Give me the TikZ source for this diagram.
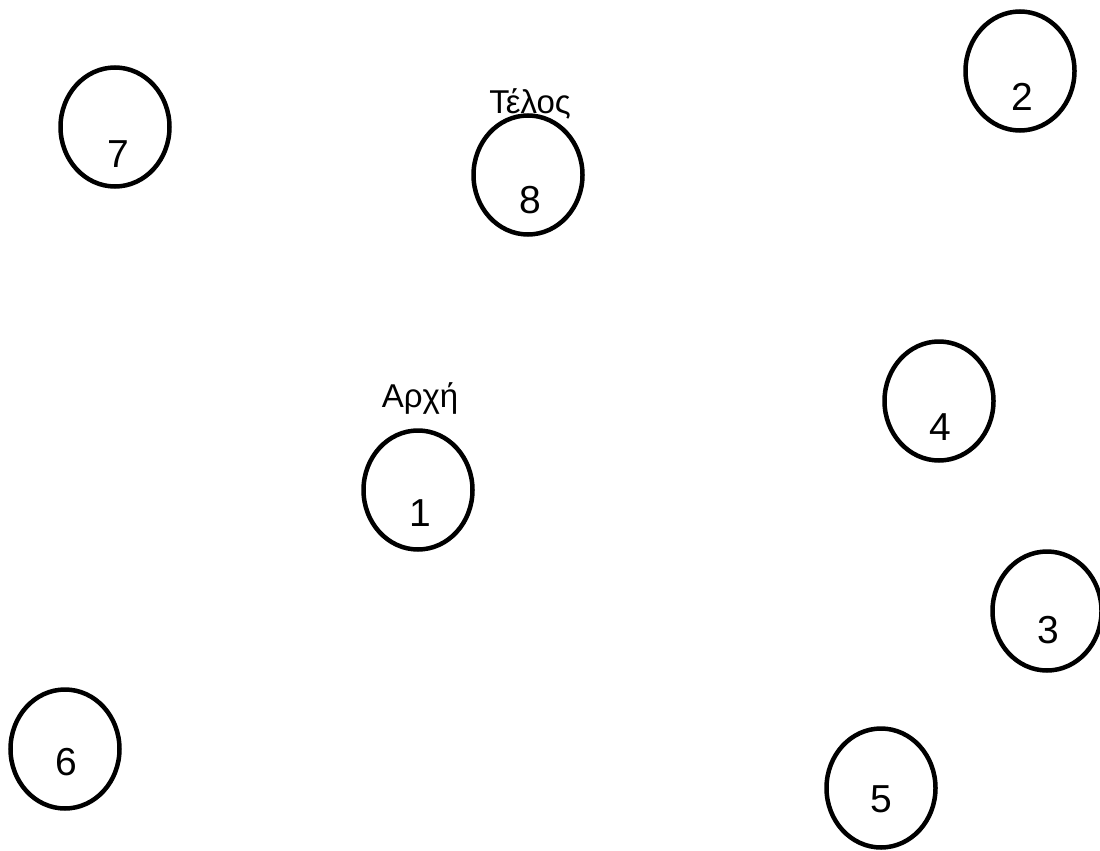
\documentclass[tikz,border=0pt]{standalone}
\usepackage{fontspec}
\setmainfont{Liberation Sans}
\usetikzlibrary{shapes.geometric}
\tikzset{
  circ/.style={draw=black, line width=4.5pt, ellipse, minimum width=109pt, minimum height=119pt, inner sep=0pt},
  num/.style={font=\fontsize{39}{44}\selectfont, inner sep=0pt, anchor=center},
  lbl/.style={font=\fontsize{33}{40}\selectfont, inner sep=0pt, anchor=center}
}
\begin{document}
\begin{tikzpicture}[x=1pt,y=-1pt]
\useasboundingbox (0,0) rectangle (1100,851);
\node[circ] (c7) at (115,127) {};
\node[circ] (c8) at (528,175) {};
\node[circ] (c2) at (1020,71) {};
\node[circ] (c4) at (939,401) {};
\node[circ] (c1) at (418,490) {};
\node[circ] (c3) at (1047,611) {};
\node[circ] (c6) at (65,749) {};
\node[circ] (c5) at (881,788) {};
\node[num] (t7) at (118,154) {7};
\node[num] (t8) at (530,200) {8};
\node[num] (t2) at (1022,97) {2};
\node[num] (t4) at (940,427) {4};
\node[num] (t1) at (420,513) {1};
\node[num] (t3) at (1048,630) {3};
\node[num] (t6) at (66,762) {6};
\node[num] (t5) at (881,799) {5};
\node[lbl] (end) at (530,104) {Τέλος};
\node[lbl] (start) at (420,398) {Αρχή};
\end{tikzpicture}
\end{document}
